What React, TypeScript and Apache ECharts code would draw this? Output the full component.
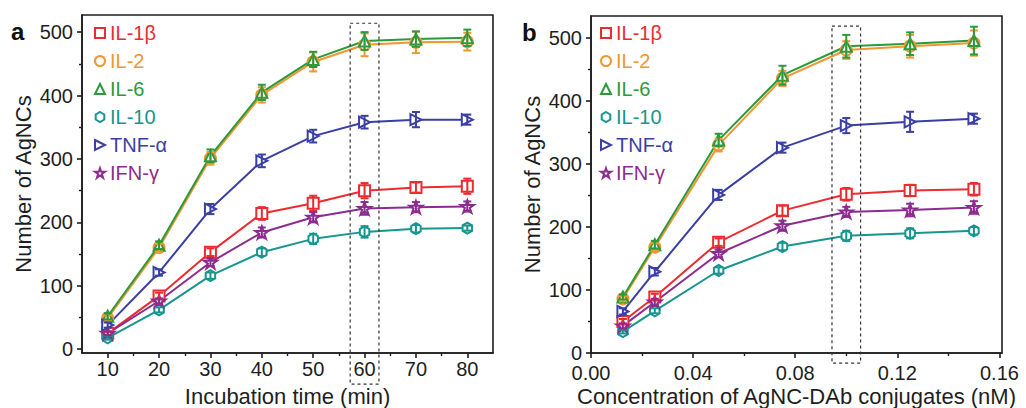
import React, { useEffect, useRef } from "react";
import * as echarts from "echarts";

// Series names, colours and marker shapes
const NAMES = ["IL-1β", "IL-2", "IL-6", "IL-10", "TNF-α", "IFN-γ"];
const COLORS = ["#ec2b30", "#f29630", "#2c9a3c", "#17958f", "#3a3fa3", "#8c2c8f"];
const SYMBOLS = [
  "rect",
  "circle",
  "triangle",
  "path://M5,0 L9.3,2.5 L9.3,7.5 L5,10 L0.7,7.5 L0.7,2.5 Z",
  "path://M0,0 L10,5 L0,10 Z",
  "path://M5,0 L6.2,3.6 L10,3.6 L6.9,5.8 L8.1,9.5 L5,7.2 L1.9,9.5 L3.1,5.8 L0,3.6 L3.8,3.6 Z",
];

// Panel a: incubation time (min)
const TIME = [10, 20, 30, 40, 50, 60, 70, 80];
const IL1B_TIME = [25, 84, 153, 214, 230, 250, 255, 257];
const IL2_TIME = [49, 160, 301, 401, 453, 480, 484, 485];
const IL6_TIME = [52, 164, 305, 405, 457, 486, 489, 491];
const IL10_TIME = [18, 62, 116, 153, 174, 185, 190, 191];
const TNF_TIME = [38, 121, 221, 297, 336, 358, 362, 362];
const IFN_TIME = [25, 76, 137, 184, 208, 222, 224, 225];
const IL1B_TIME_ERR = [3, 5, 6, 10, 12, 12, 8, 12];
const IL2_TIME_ERR = [4, 6, 10, 12, 15, 18, 17, 14];
const IL6_TIME_ERR = [5, 6, 10, 12, 12, 14, 12, 13];
const IL10_TIME_ERR = [3, 4, 5, 6, 8, 9, 6, 4];
const TNF_TIME_ERR = [4, 5, 8, 10, 10, 10, 12, 8];
const IFN_TIME_ERR = [3, 4, 6, 8, 8, 10, 8, 8];

// Panel b: conjugate concentration (nM)
const CONC = [0.0125, 0.025, 0.05, 0.075, 0.1, 0.125, 0.15];
const IL1B_CONC = [50, 89, 176, 226, 252, 258, 260];
const IL2_CONC = [86, 168, 330, 436, 481, 487, 492];
const IL6_CONC = [89, 172, 338, 441, 487, 491, 496];
const IL10_CONC = [34, 67, 131, 169, 186, 190, 194];
const TNF_CONC = [66, 129, 251, 326, 361, 367, 372];
const IFN_CONC = [43, 81, 158, 202, 224, 227, 231];
const IL1B_CONC_ERR = [4, 5, 6, 8, 10, 9, 10];
const IL2_CONC_ERR = [4, 6, 10, 12, 14, 18, 20];
const IL6_CONC_ERR = [4, 6, 10, 15, 18, 18, 22];
const IL10_CONC_ERR = [3, 4, 5, 6, 8, 8, 6];
const TNF_CONC_ERR = [5, 6, 8, 8, 12, 16, 8];
const IFN_CONC_ERR = [4, 5, 6, 8, 8, 10, 10];

// Axis ticks
const TIME_MAJOR = [10, 20, 30, 40, 50, 60, 70, 80];
const TIME_MINOR = [15, 25, 35, 45, 55, 65, 75];
const CONC_MAJOR = [0, 0.04, 0.08, 0.12, 0.16];
const CONC_MINOR = [0.02, 0.06, 0.1, 0.14];
const COUNT_MAJOR = [0, 100, 200, 300, 400, 500];
const COUNT_MINOR = [50, 150, 250, 350, 450];

const TIME_VALUES = [IL1B_TIME, IL2_TIME, IL6_TIME, IL10_TIME, TNF_TIME, IFN_TIME];
const TIME_ERRORS = [IL1B_TIME_ERR, IL2_TIME_ERR, IL6_TIME_ERR, IL10_TIME_ERR, TNF_TIME_ERR, IFN_TIME_ERR];
const CONC_VALUES = [IL1B_CONC, IL2_CONC, IL6_CONC, IL10_CONC, TNF_CONC, IFN_CONC];
const CONC_ERRORS = [IL1B_CONC_ERR, IL2_CONC_ERR, IL6_CONC_ERR, IL10_CONC_ERR, TNF_CONC_ERR, IFN_CONC_ERR];

const FONT = "'Liberation Sans', Arial, sans-serif";
const INK = "#1e1e1e";

function majorAxis(
  gridIndex: number,
  min: number,
  max: number,
  ticks: number[],
  isX: boolean,
  name: string,
  nameGap: number,
  labelMargin: number,
  fmt?: (v: number) => string
) {
  return {
    type: "value",
    gridIndex,
    position: isX ? "bottom" : "left",
    min,
    max,
    name,
    nameLocation: "middle",
    nameGap,
    nameMoveOverlap: false,
    nameTextStyle: { fontFamily: FONT, fontSize: 22, lineHeight: 22, color: INK },
    axisLine: { show: true, onZero: false, lineStyle: { color: INK, width: 1.6 } },
    axisTick: { show: true, inside: false, length: 5, customValues: ticks, lineStyle: { color: INK, width: 1.6 } },
    axisLabel: {
      show: true,
      customValues: ticks,
      margin: labelMargin,
      lineHeight: isX ? 16 : 12,
      fontFamily: FONT,
      fontSize: 20,
      color: INK,
      formatter: fmt ? (v: number) => fmt(v) : undefined,
    },
    splitLine: { show: false },
  };
}

function minorAxis(gridIndex: number, min: number, max: number, ticks: number[], isX: boolean) {
  return {
    type: "value",
    gridIndex,
    position: isX ? "bottom" : "left",
    min,
    max,
    axisLine: { show: false, onZero: false },
    axisTick: { show: true, inside: false, length: 3, customValues: ticks, lineStyle: { color: INK, width: 1.4 } },
    axisLabel: { show: false },
    splitLine: { show: false },
  };
}

function lineSeries(xs: number[], ys: number[], k: number, axisIndex: number) {
  return {
    type: "line",
    name: NAMES[k],
    xAxisIndex: axisIndex,
    yAxisIndex: axisIndex,
    data: xs.map((x, i) => [x, ys[i]]),
    symbol: SYMBOLS[k],
    symbolSize: k === 5 ? 13 : 11,
    symbolKeepAspect: true,
    showAllSymbol: true,
    lineStyle: { color: COLORS[k], width: 2 },
    itemStyle: { color: "#ffffff", borderColor: COLORS[k], borderWidth: 2 },
    z: 2,
  };
}

function errorSeries(xs: number[], ys: number[], es: number[], k: number, axisIndex: number) {
  const color = COLORS[k];
  return {
    type: "custom",
    xAxisIndex: axisIndex,
    yAxisIndex: axisIndex,
    data: xs.map((x, i) => [x, ys[i], es[i]]),
    encode: { x: 0, y: 1 },
    silent: true,
    z: 3,
    renderItem: (_params: any, api: any) => {
      const x = api.value(0);
      const y = api.value(1);
      const e = api.value(2);
      const top = api.coord([x, y + e]);
      const bot = api.coord([x, y - e]);
      const hw = 4;
      const st = { stroke: color, lineWidth: 2 };
      return {
        type: "group",
        children: [
          { type: "line", shape: { x1: top[0], y1: top[1], x2: bot[0], y2: bot[1] }, style: st },
          { type: "line", shape: { x1: top[0] - hw, y1: top[1], x2: top[0] + hw, y2: top[1] }, style: st },
          { type: "line", shape: { x1: bot[0] - hw, y1: bot[1], x2: bot[0] + hw, y2: bot[1] }, style: st },
        ],
      };
    },
  };
}

function legendFor(left: number) {
  return {
    orient: "vertical",
    left,
    top: 23,
    padding: 0,
    itemWidth: 10,
    itemHeight: 10,
    itemGap: 8,
    selectedMode: false,
    textStyle: { fontFamily: FONT, fontSize: 20, lineHeight: 20 },
    data: NAMES.map((n, k) => ({
      name: n,
      icon: SYMBOLS[k],
      itemStyle: { color: "#ffffff", borderColor: COLORS[k], borderWidth: 2 },
      textStyle: { color: COLORS[k] },
    })),
  };
}

export default function App() {
  const ref = useRef<HTMLDivElement>(null);

  useEffect(() => {
    if (!ref.current) return;
    const chart = echarts.init(ref.current, null, { renderer: "svg" });

    const series: any[] = [];
    for (let k = 0; k < NAMES.length; k++) {
      series.push(lineSeries(TIME, TIME_VALUES[k], k, 0));
    }
    for (let k = 0; k < NAMES.length; k++) {
      series.push(errorSeries(TIME, TIME_VALUES[k], TIME_ERRORS[k], k, 0));
    }
    for (let k = 0; k < NAMES.length; k++) {
      series.push(lineSeries(CONC, CONC_VALUES[k], k, 2));
    }
    for (let k = 0; k < NAMES.length; k++) {
      series.push(errorSeries(CONC, CONC_VALUES[k], CONC_ERRORS[k], k, 2));
    }

    const gridStyle = {
      show: true,
      borderColor: INK,
      borderWidth: 1.6,
      backgroundColor: "transparent",
      containLabel: false,
      outerBoundsMode: "none",
    };

    chart.setOption({
      animation: false,
      backgroundColor: "#ffffff",
      grid: [
        { ...gridStyle, left: 82, top: 15, width: 411, height: 338 },
        { ...gridStyle, left: 591, top: 16, width: 411, height: 337 },
      ],
      xAxis: [
        majorAxis(0, 5, 85, TIME_MAJOR, true, "Incubation time (min)", 32, 8),
        minorAxis(0, 5, 85, TIME_MINOR, true),
        majorAxis(1, 0, 0.161, CONC_MAJOR, true, "Concentration of AgNC-DAb conjugates (nM)", 32, 12, (v) =>
          v.toFixed(2)
        ),
        minorAxis(1, 0, 0.161, CONC_MINOR, true),
      ],
      yAxis: [
        majorAxis(0, -6, 527, COUNT_MAJOR, false, "Number of AgNCs", 48, 9),
        minorAxis(0, -6, 527, COUNT_MINOR, false),
        majorAxis(1, 0, 535, COUNT_MAJOR, false, "Number of AgNCs", 48, 9),
        minorAxis(1, 0, 535, COUNT_MINOR, false),
      ],
      legend: [legendFor(94), legendFor(600)],
      series,
    });

    // Dashed boxes around the 60 min / 0.1 nM columns, and panel letters
    const a1 = chart.convertToPixel({ xAxisIndex: 0, yAxisIndex: 0 }, [57.2, 514]) as number[];
    const a2 = chart.convertToPixel({ xAxisIndex: 0, yAxisIndex: 0 }, [62.8, -55]) as number[];
    const b1 = chart.convertToPixel({ xAxisIndex: 2, yAxisIndex: 2 }, [0.0944, 519]) as number[];
    const b2 = chart.convertToPixel({ xAxisIndex: 2, yAxisIndex: 2 }, [0.1056, -16]) as number[];
    const dashed = { fill: "none", stroke: "#333333", lineWidth: 1.2, lineDash: [3, 3] };
    chart.setOption({
      graphic: [
        {
          type: "rect",
          shape: { x: a1[0], y: a1[1], width: a2[0] - a1[0], height: a2[1] - a1[1] },
          style: dashed,
          silent: true,
          z: 10,
        },
        {
          type: "rect",
          shape: { x: b1[0], y: b1[1], width: b2[0] - b1[0], height: b2[1] - b1[1] },
          style: dashed,
          silent: true,
          z: 10,
        },
        {
          type: "text",
          left: 11,
          top: 19,
          style: { text: "a", fontFamily: FONT, fontSize: 24, fontWeight: "bold", fill: "#111111" },
        },
        {
          type: "text",
          left: 522,
          top: 20,
          style: { text: "b", fontFamily: FONT, fontSize: 24, fontWeight: "bold", fill: "#111111" },
        },
      ],
    });

    return () => chart.dispose();
  }, []);

  return (
    <div
      ref={ref}
      style={{ position: "fixed", left: 0, top: 0, width: 1026, height: 408, background: "#ffffff" }}
    />
  );
}
